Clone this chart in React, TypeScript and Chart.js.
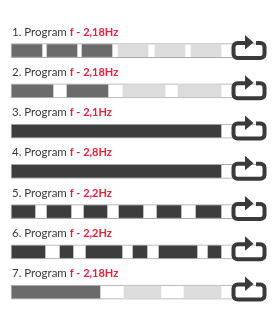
import { useEffect, useRef } from 'react';
import { Chart, registerables } from 'chart.js';

Chart.register(...registerables);

// ---- data ----
const programTitles = ['1. Program', '2. Program', '3. Program', '4. Program', '5. Program', '6. Program', '7. Program'];
const programFrequencies = ['f - 2,18Hz', 'f - 2,18Hz', 'f - 2,1Hz', 'f - 2,8Hz', 'f - 2,2Hz', 'f - 2,2Hz', 'f - 2,18Hz'];

// segments along one cycle, [start, end]
const program1Strong = [[1, 31], [36, 66], [71, 101]];
const program1Weak = [[107, 137], [144, 174], [180, 210]];
const program2Strong = [[1, 42], [56, 97]];
const program2Weak = [[112, 154], [167, 210]];
const program3Full = [[1, 210]];
const program4Full = [[1, 210]];
const program5Pulses = [[1, 24], [36, 60], [73, 96], [108, 132], [146, 170], [185, 210]];
const program6Pulses = [[1, 34], [49, 62], [75, 111], [122, 136], [148, 186], [197, 210]];
const program7Strong = [[1, 89]];
const program7Weak = [[113, 150], [173, 210]];
const trackRange = [0, 255];

const MEDIUM = '#6b6b6b';
const LIGHT = '#dcdcdc';
const DARK = '#3d3d3d';

export default function App() {
  const canvasRef = useRef<HTMLCanvasElement | null>(null);

  useEffect(() => {
    if (!canvasRef.current) return;
    const seg = (row: number, list: number[][], color: string) => ({
      type: 'bar' as const,
      data: list.map((s) => ({ x: s, y: row })),
      backgroundColor: color,
      borderWidth: 0,
      barThickness: 12,
      grouped: false,
      order: 1,
    });

    const datasets: any[] = [
      {
        type: 'bar',
        data: programTitles.map((_, i) => ({ x: trackRange, y: i })),
        backgroundColor: '#ffffff',
        borderColor: '#a8a8a8',
        borderWidth: 1,
        borderSkipped: false,
        barThickness: 14,
        grouped: false,
        order: 2,
      },
      seg(0, program1Strong, MEDIUM),
      seg(0, program1Weak, LIGHT),
      seg(1, program2Strong, MEDIUM),
      seg(1, program2Weak, LIGHT),
      seg(2, program3Full, DARK),
      seg(3, program4Full, DARK),
      seg(4, program5Pulses, DARK),
      seg(5, program6Pulses, DARK),
      seg(6, program7Strong, MEDIUM),
      seg(6, program7Weak, LIGHT),
    ];

    const firstRow = 35;
    const rowGap = 46;
    const H = 319;

    const overlay = {
      id: 'programOverlay',
      afterDatasetsDraw(chart: any) {
        const ctx = chart.ctx as CanvasRenderingContext2D;
        const xs = chart.scales.x;
        const ys = chart.scales.y;
        const x0 = xs.getPixelForValue(trackRange[0]);
        const xEnd = xs.getPixelForValue(trackRange[1]);
        ctx.save();
        programTitles.forEach((title, i) => {
          const cy = ys.getPixelForValue(i);
          // label
          ctx.textBaseline = 'alphabetic';
          ctx.textAlign = 'left';
          ctx.font = '11.5px Lato';
          ctx.fillStyle = '#3a3a3a';
          const t = title + ' ';
          ctx.fillText(t, x0 + 1, cy - 15);
          const w = ctx.measureText(t).width;
          ctx.font = 'bold 11px Lato';
          ctx.fillStyle = '#e6203a';
          ctx.fillText(programFrequencies[i], x0 + 1 + w, cy - 15);

          // repeat icon
          const L = xEnd - 32.5;
          const R = xEnd - 1.5;
          const T = cy - 7.5;
          const B = cy + 7.5;
          const r = 4;
          ctx.strokeStyle = '#3a3a3a';
          ctx.lineWidth = 4;
          ctx.lineCap = 'butt';
          ctx.lineJoin = 'round';
          ctx.beginPath();
          ctx.moveTo(xEnd - 10, T);
          ctx.lineTo(R - r, T);
          ctx.arcTo(R, T, R, T + r, r);
          ctx.lineTo(R, B - r);
          ctx.arcTo(R, B, R - r, B, r);
          ctx.lineTo(L + r, B);
          ctx.arcTo(L, B, L, B - r, r);
          ctx.lineTo(L, T + r);
          ctx.arcTo(L, T, L + r, T, r);
          ctx.lineTo(xEnd - 20, T);
          ctx.stroke();
          ctx.fillStyle = '#3a3a3a';
          ctx.beginPath();
          ctx.moveTo(xEnd - 21, T - 8);
          ctx.lineTo(xEnd - 21, T + 6.5);
          ctx.lineTo(xEnd - 12.5, T - 0.5);
          ctx.closePath();
          ctx.fill();
        });
        ctx.restore();
      },
    };

    const chart = new Chart(canvasRef.current, {
      type: 'bar',
      data: { labels: programTitles, datasets },
      options: {
        indexAxis: 'y',
        animation: false,
        responsive: false,
        layout: { padding: 0 },
        plugins: { legend: { display: false }, tooltip: { enabled: false } },
        scales: {
          x: { type: 'linear', min: -11, max: 261, display: false },
          y: {
            type: 'linear',
            reverse: true,
            min: -firstRow / rowGap,
            max: (H - firstRow) / rowGap,
            display: false,
          },
        },
      },
      plugins: [overlay],
    } as any);

    return () => chart.destroy();
  }, []);

  return (
    <div style={{ position: 'fixed', left: 0, top: 0, width: 272, height: 319, background: '#fff' }}>
      <canvas ref={canvasRef} width={272} height={319} style={{ display: 'block' }} />
    </div>
  );
}
